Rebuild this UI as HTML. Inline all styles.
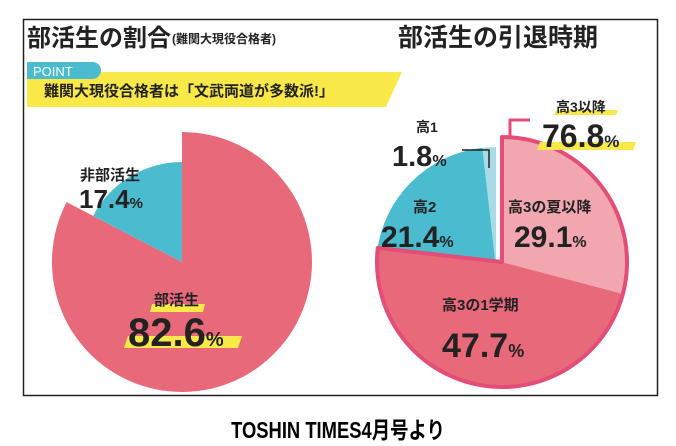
<!DOCTYPE html>
<html><head><meta charset="utf-8"><style>
html,body{margin:0;padding:0;background:#fff;}
svg{display:block;}
text{font-family:"Liberation Sans","Noto Sans CJK JP",sans-serif;font-weight:bold;}
</style></head><body>
<svg width="676" height="446" viewBox="0 0 676 446" xmlns="http://www.w3.org/2000/svg">
<rect x="23.5" y="19.5" width="634" height="376" fill="#fff" stroke="#222" stroke-width="1.5"/>
<!-- titles -->
<text x="27" y="46" font-size="24" fill="#222">部活生の割合</text>
<text x="172" y="43" font-size="12" fill="#222">(難関大現役合格者)</text>
<text x="398" y="46" font-size="25" fill="#222">部活生の引退時期</text>
<!-- point banner -->
<polygon points="27,72 402,72 386,107 27,107" fill="#f8e948"/>
<rect x="27" y="62" width="74" height="17" rx="8.5" fill="#4bbcd0"/>
<rect x="27" y="62" width="20" height="17" fill="#4bbcd0"/>
<text x="33" y="76" font-size="13" fill="#fff" style="font-weight:normal">POINT</text>
<text x="44" y="96" font-size="15" fill="#222">難関大現役合格者は「文武両道が多数派!」</text>
<!-- left pie -->
<path d="M182,262 L182,132 A130,130 0 1 1 66.6,202.1 Z" fill="#e8697a"/>
<path d="M182,262 L93.2,215.9 A100,100 0 0 1 182,162 Z" fill="#4bbcd0"/>
<text x="80" y="180" font-size="15" fill="#222">非部活生</text>
<text x="79" y="208" font-size="26" fill="#222">17.4<tspan font-size="15">%</tspan></text>
<polygon points="152,304 205,304 203,312 150,312" fill="#f8e948"/>
<text x="154" y="305" font-size="15" fill="#222">部活生</text>
<polygon points="128,336 242,336 238,348 124,348" fill="#f8e948"/>
<text x="128" y="346" font-size="40" fill="#222">82.6<tspan font-size="20">%</tspan></text>
<!-- right pie -->
<path d="M496,267 L376.8,253.4 A120,120 0 0 1 482.4,147.8 Z" fill="#4bbcd0"/>
<path d="M496,267 L482.4,147.8 A120,120 0 0 1 496,147 Z" fill="#a8dbe6"/>
<path d="M502,262 L502,137 A125,125 0 0 1 622.9,293.9 Z" fill="#f2a7b0"/>
<path d="M502,262 L622.9,293.9 A125,125 0 0 1 377.8,247.9 Z" fill="#e8697a"/>
<path d="M502,262 L502,137 A125,125 0 1 1 377.8,247.9 Z" fill="none" stroke="#e34e78" stroke-width="4" stroke-linejoin="round"/>
<!-- right labels -->
<text x="416" y="132" font-size="14" fill="#222">高1</text>
<text x="392" y="166" font-size="29" fill="#222">1.8<tspan font-size="16">%</tspan></text>
<polyline points="462,150 489,150 489,168" fill="none" stroke="#222" stroke-width="1.5"/>
<text x="413" y="212" font-size="15" fill="#222">高2</text>
<text x="381" y="247" font-size="30" fill="#222">21.4<tspan font-size="16">%</tspan></text>
<text x="508" y="212" font-size="15" fill="#222">高3の夏以降</text>
<text x="514" y="247" font-size="30" fill="#222">29.1<tspan font-size="16">%</tspan></text>
<text x="442" y="310" font-size="15" fill="#222">高3の1学期</text>
<text x="442" y="357" font-size="34" fill="#222">47.7<tspan font-size="18">%</tspan></text>
<polyline points="510,137 510,120 530,120" fill="none" stroke="#e34e78" stroke-width="3"/>
<polygon points="556,110 618,110 616,115 554,115" fill="#f8e948"/>
<text x="556" y="112" font-size="14" fill="#222">高3以降</text>
<polygon points="540,142 636,142 633,150 537,150" fill="#f8e948"/>
<text x="542" y="147" font-size="32" fill="#222">76.8<tspan font-size="17">%</tspan></text>
<!-- caption -->
<text x="338" y="438" font-size="23" fill="#000" text-anchor="middle" transform="translate(338,0) scale(0.8,1) translate(-338,0)">TOSHIN TIMES4月号より</text>
</svg>
</body></html>
